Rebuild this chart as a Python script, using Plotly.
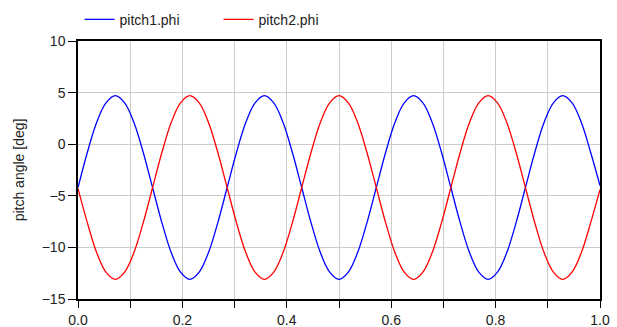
import numpy as np
import plotly.graph_objects as go

# time grid (16 samples per period, 3.5 periods)
time = np.linspace(0.0, 1.0, 57)

pitch1_phi = [
    -4.2, -0.8, 2.1, 4.0, 4.7, 4.0, 2.1, -0.8, -4.2, -7.6, -10.5, -12.4, -13.1, -12.4, -10.5, -7.6,
    -4.2, -0.8, 2.1, 4.0, 4.7, 4.0, 2.1, -0.8, -4.2, -7.6, -10.5, -12.4, -13.1, -12.4, -10.5, -7.6,
    -4.2, -0.8, 2.1, 4.0, 4.7, 4.0, 2.1, -0.8, -4.2, -7.6, -10.5, -12.4, -13.1, -12.4, -10.5, -7.6,
    -4.2, -0.8, 2.1, 4.0, 4.7, 4.0, 2.1, -0.8, -4.0,
]
pitch2_phi = [
    -4.3, -7.6, -10.5, -12.4, -13.1, -12.4, -10.5, -7.6, -4.2, -0.8, 2.1, 4.0, 4.7, 4.0, 2.1, -0.8,
    -4.2, -7.6, -10.5, -12.4, -13.1, -12.4, -10.5, -7.6, -4.2, -0.8, 2.1, 4.0, 4.7, 4.0, 2.1, -0.8,
    -4.2, -7.6, -10.5, -12.4, -13.1, -12.4, -10.5, -7.6, -4.2, -0.8, 2.1, 4.0, 4.7, 4.0, 2.1, -0.8,
    -4.2, -7.6, -10.5, -12.4, -13.1, -12.4, -10.5, -7.6, -4.4,
]

x_tickvals = [0.0, 0.1, 0.2, 0.3, 0.4, 0.5, 0.6, 0.7, 0.8, 0.9, 1.0]
x_ticktext = ["0.0", "", "0.2", "", "0.4", "", "0.6", "", "0.8", "", "1.0"]
y_tickvals = [-15, -10, -5, 0, 5, 10]

FONT = "Liberation Sans, Arial, sans-serif"

fig = go.Figure()
fig.add_trace(go.Scatter(x=time, y=pitch1_phi, mode="lines", name="pitch1.phi",
                         line=dict(color="#0000ff", width=1.3, shape="spline", smoothing=1.0)))
fig.add_trace(go.Scatter(x=time, y=pitch2_phi, mode="lines", name="pitch2.phi",
                         line=dict(color="#ff0000", width=1.3, shape="spline", smoothing=1.0)))

fig.update_layout(
    width=617, height=327,
    margin=dict(l=78, r=17, t=41, b=28, autoexpand=False),
    paper_bgcolor="white", plot_bgcolor="white",
    font=dict(family=FONT, size=14, color="#222222"),
    showlegend=True,
    legend=dict(orientation="h", x=0.003, y=1.02, xanchor="left", yanchor="bottom",
                font=dict(family=FONT, size=14, color="#222222"),
                bgcolor="rgba(0,0,0,0)", entrywidth=94, entrywidthmode="pixels"),
    xaxis=dict(range=[0, 1], tickvals=x_tickvals, ticktext=x_ticktext, automargin=False,
               showgrid=True, gridcolor="#cccccc", gridwidth=1,
               showline=True, linecolor="#000000", linewidth=1.5, mirror=True,
               ticks="outside", ticklen=7, tickcolor="#000000", tickwidth=1,
               zeroline=False),
    yaxis=dict(range=[-15, 10], tickvals=y_tickvals, automargin=False,
               showgrid=True, gridcolor="#cccccc", gridwidth=1,
               showline=True, linecolor="#000000", linewidth=1.5, mirror=True,
               ticks="outside", ticklen=8, tickcolor="#000000", tickwidth=1,
               zeroline=False,
               title=dict(text="pitch angle [deg]", standoff=14,
                          font=dict(family=FONT, size=14, color="#222222"))),
)

fig.write_html("out.html")
